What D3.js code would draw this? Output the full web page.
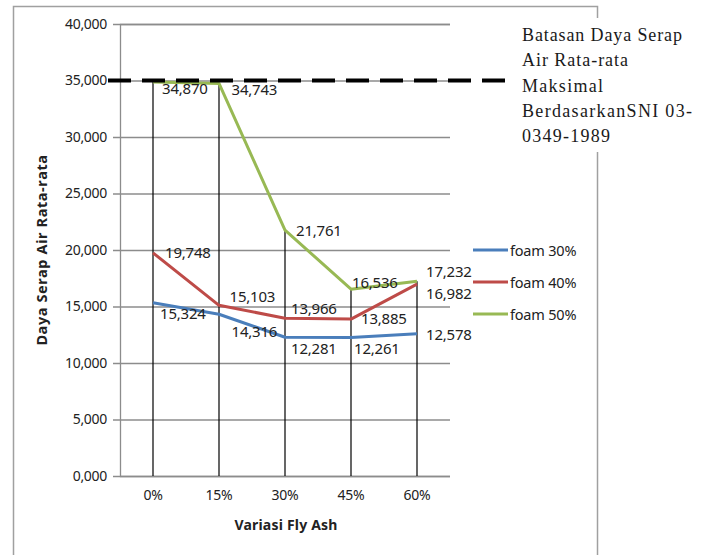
<!DOCTYPE html>
<html>
<head>
<meta charset="utf-8">
<script src="https://cdn.jsdelivr.net/npm/d3@7/dist/d3.min.js"></script>
<style>
  html, body { margin: 0; padding: 0; background: #fff; }
  svg { display: block; }
</style>
</head>
<body>
<svg id="chart" width="705" height="555"></svg>
<script>
// Fly ash variation (x) and average water absorption per foam content
const categories = ["0%", "15%", "30%", "45%", "60%"];
const seriesNames = ["foam 30%", "foam 40%", "foam 50%"];
const foam30 = [15.324, 14.316, 12.281, 12.261, 12.578];
const foam40 = [19.748, 15.103, 13.966, 13.885, 16.982];
const foam50 = [34.870, 34.743, 21.761, 16.536, 17.232];
const yTicks = [0, 5, 10, 15, 20, 25, 30, 35, 40];
const limitValue = 35;
const limitLines = ["Batasan Daya Serap", "Air Rata-rata", "Maksimal", "BerdasarkanSNI 03-", "0349-1989"];

const seriesValues = [foam30, foam40, foam50];
const colors = ["#4a7ebb", "#be4b48", "#98b954"];

// hand-placed label nudges (dx, dy) relative to each point
const labelNudge = [
  [[7, 10], [12.5, 17], [6, 11], [3, 11], [9, 0.5]],
  [[12, -1], [10.5, -9], [6, -10], [10, -1], [9, 8.5]],
  [[9, 6.5], [12.5, 5.5], [11, 0], [1, -7.5], [9, -10]]
];

const fmt = d3.formatLocale({decimal: ",", thousands: ".", grouping: [3], currency: ["", ""]}).format(".3f");

const svg = d3.select("#chart");
const plotLeft = 120, plotRight = 450, plotTop = 24, plotBottom = 476;

const x = d3.scaleBand().domain(categories).range([plotLeft, plotRight]);
const cx = c => x(c) + x.bandwidth() / 2;
const y = d3.scaleLinear().domain([0, 40]).range([plotBottom, plotTop]);

// outer chart frame
svg.append("rect")
  .attr("x", 13.5).attr("y", 6.5).attr("width", 584).attr("height", 560)
  .attr("fill", "none").attr("stroke", "#a0a0a0").attr("stroke-width", 1.5);

// gridlines + y axis
const yAxis = d3.axisLeft(y).tickValues(yTicks).tickSize(-(plotRight - plotLeft)).tickPadding(8).tickFormat(fmt);
const gy = svg.append("g").attr("transform", `translate(${plotLeft},0)`).call(yAxis);
gy.select(".domain").attr("stroke", "#8c8c8c").attr("stroke-width", 1.3);
gy.selectAll(".tick line").attr("stroke", "#8c8c8c").attr("stroke-width", 1.3).attr("x1", -7);
gy.selectAll(".tick text")
  .attr("font-family", "'Noto Sans', sans-serif").attr("font-size", 14)
  .attr("fill", "#222").attr("x", -13).attr("letter-spacing", -0.3);

// x axis labels
const xAxis = d3.axisBottom(x).tickSize(0).tickPadding(14);
const gx = svg.append("g").attr("transform", `translate(0,${plotBottom})`).call(xAxis);
gx.select(".domain").remove();
gx.selectAll(".tick text")
  .attr("font-family", "'Noto Sans', sans-serif").attr("font-size", 14)
  .attr("fill", "#222").attr("letter-spacing", -0.2);

// drop lines from the highest point of each category
svg.append("g").selectAll("line")
  .data(categories)
  .join("line")
  .attr("x1", cx).attr("x2", cx)
  .attr("y1", (c, i) => y(d3.max(seriesValues, s => s[i])))
  .attr("y2", y(0))
  .attr("stroke", "#000").attr("stroke-width", 1.2);

// series lines
const line = d3.line().x((d, i) => cx(categories[i])).y(d => y(d));
svg.append("g").selectAll("path")
  .data(seriesValues)
  .join("path")
  .attr("d", d => line(d))
  .attr("fill", "none")
  .attr("stroke", (d, i) => colors[i])
  .attr("stroke-width", 3)
  .attr("stroke-linejoin", "round");

// dashed maximum limit line
svg.append("line")
  .attr("x1", 108).attr("x2", 508)
  .attr("y1", y(limitValue)).attr("y2", y(limitValue))
  .attr("stroke", "#000").attr("stroke-width", 4)
  .attr("stroke-dasharray", "23 11");

// data labels
seriesValues.forEach((vals, si) => {
  svg.append("g").selectAll("text")
    .data(vals)
    .join("text")
    .attr("x", (d, i) => cx(categories[i]) + labelNudge[si][i][0])
    .attr("y", (d, i) => y(d) + labelNudge[si][i][1])
    .attr("dominant-baseline", "central")
    .attr("font-family", "'Noto Sans', sans-serif")
    .attr("font-size", 15)
    .attr("letter-spacing", -0.2)
    .attr("fill", "#222")
    .text(d => fmt(d));
});

// axis titles
svg.append("text")
  .attr("transform", "translate(47,250) rotate(-90)")
  .attr("text-anchor", "middle")
  .attr("font-family", "'Noto Sans', sans-serif").attr("font-weight", "bold")
  .attr("font-size", 14.5).attr("letter-spacing", 0.6).attr("fill", "#222")
  .text("Daya Serap Air Rata-rata");

svg.append("text")
  .attr("x", 286).attr("y", 530)
  .attr("text-anchor", "middle")
  .attr("font-family", "'Noto Sans', sans-serif").attr("font-weight", "bold")
  .attr("font-size", 14).attr("letter-spacing", 0.2).attr("fill", "#222")
  .text("Variasi Fly Ash");

// series legend
const lg = svg.append("g").selectAll("g")
  .data(seriesNames)
  .join("g")
  .attr("transform", (d, i) => `translate(473,${250 + i * 32})`);
lg.append("line").attr("x1", 0).attr("x2", 35)
  .attr("stroke", (d, i) => colors[i]).attr("stroke-width", 3);
lg.append("text").attr("x", 37).attr("dominant-baseline", "central")
  .attr("font-family", "'Noto Sans', sans-serif").attr("font-size", 14.5)
  .attr("letter-spacing", -0.2).attr("fill", "#222")
  .text(d => d);

// limit annotation text box
svg.append("rect").attr("x", 514).attr("y", 18).attr("width", 191).attr("height", 134).attr("fill", "#fff");
const lineWidths = [160, 106, 81, 170, 88];
svg.append("g").selectAll("text")
  .data(limitLines)
  .join("text")
  .attr("x", 522)
  .attr("y", (d, i) => 41 + i * 25.3)
  .attr("font-family", "'Liberation Serif', 'Times New Roman', serif")
  .attr("font-size", 18)
  .attr("fill", "#1a1a1a")
  .attr("textLength", (d, i) => lineWidths[i])
  .attr("lengthAdjust", "spacing")
  .text(d => d);
</script>
</body>
</html>
